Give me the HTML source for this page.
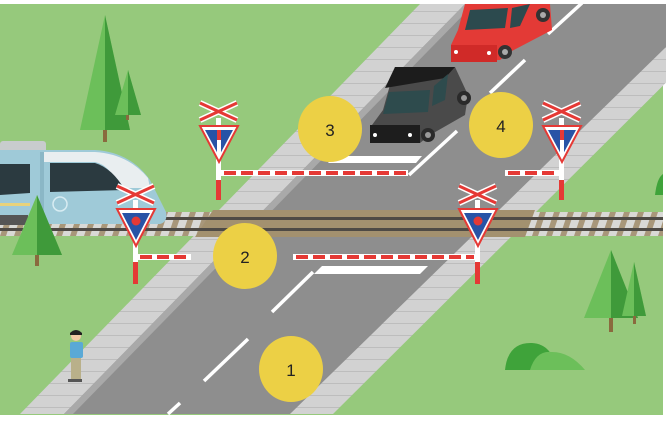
<!DOCTYPE html>
<html><head><meta charset="utf-8"><style>
html,body{margin:0;padding:0;background:#fff;}
svg{display:block;}
text{font-family:"Liberation Sans","DejaVu Sans",sans-serif;}
</style></head><body>
<svg width="666" height="422" viewBox="0 0 666 422" xmlns="http://www.w3.org/2000/svg">
<defs>
<pattern id="sl" x="0" y="212" width="14" height="24" patternUnits="userSpaceOnUse">
<rect width="14" height="24" fill="#d9d9d6"/>
<polygon points="8,0 14,0 6,24 0,24" fill="#a8977a"/>
</pattern>
<pattern id="sw" x="0" y="0" width="10" height="12" patternUnits="userSpaceOnUse">
<rect width="10" height="12" fill="#d2d2d2"/>
<rect y="11" width="10" height="1" fill="#bdbdbd"/>
</pattern>
</defs>
<rect x="0" y="4" width="663" height="411" fill="#96c97c"/>
<!-- sidewalks -->
<polygon points="420,4 745,4 333,414 20,414" fill="url(#sw)"/>
<!-- road -->
<polygon points="465,4 710,4 290,414 64,414" fill="#8e8e8e"/>
<polygon points="465,4 474,4 73,414 64,414" fill="#a9a9a9"/>
<!-- dashes -->
<g stroke="#fff" stroke-width="3.5">
<line x1="168" y1="414" x2="180" y2="403"/>
<line x1="204" y1="381" x2="248" y2="339"/>
<line x1="272" y1="312" x2="313" y2="272"/>
<line x1="409" y1="175" x2="457" y2="131"/>
<line x1="490" y1="93" x2="525" y2="60"/>
<line x1="548" y1="34" x2="582" y2="3"/>
</g>
<polygon points="322,266 428,266 420,274 314,274" fill="#fff"/>
<polygon points="334,156 422,156 416,163 328,163" fill="#fff"/>
<!-- track -->
<rect x="0" y="212" width="663" height="24" fill="url(#sl)"/>
<polygon points="213,210 535,210 525,237 195,237" fill="#a3916f"/>
<rect x="0" y="217" width="663" height="3" fill="#4e4a45"/>
<rect x="0" y="228" width="663" height="3" fill="#4e4a45"/>
<!-- train -->
<g>
<rect x="0" y="141" width="46" height="14" rx="3" fill="#c8cccd"/>
<path d="M0,150 L95,150 Q130,152 150,180 L166,212 Q168,222 160,224 L0,224 Z" fill="#9fcad8"/>
<path d="M40,152 L95,152 Q128,154 148,178 L150,188 L120,188 Q110,165 95,162 L40,162 Z" fill="#e9eef0"/>
<path d="M50,163 L95,163 Q112,168 125,190 L50,192 Z" fill="#2b3a40"/>
<path d="M0,164 L30,164 L30,193 L0,195 Z" fill="#2b3a40"/>
<rect x="40" y="152" width="4" height="72" fill="#8bb7c6"/>
<circle cx="60" cy="204" r="7" fill="none" stroke="#d8ecf2" stroke-width="1.5"/>
<rect x="0" y="203" width="30" height="3" fill="#e8d27a"/>
<rect x="0" y="215" width="28" height="10" fill="#555"/>
</g>
<!-- trees -->
<g>
<rect x="103" y="110" width="4" height="32" fill="#8a6a3e"/>
<polygon points="105,15 80,130 130,130" fill="#6cbf5a"/>
<polygon points="105,15 105,130 130,130" fill="#3f9a3a"/>
<rect x="126" y="100" width="3" height="20" fill="#8a6a3e"/>
<polygon points="128,70 115,115 141,115" fill="#6cbf5a"/>
<polygon points="128,70 128,115 141,115" fill="#3f9a3a"/>
<rect x="35" y="240" width="4" height="26" fill="#8a6a3e"/>
<polygon points="37,195 12,255 62,255" fill="#6cbf5a"/>
<polygon points="37,195 37,255 62,255" fill="#3f9a3a"/>
<rect x="609" y="300" width="4" height="32" fill="#8a6a3e"/>
<polygon points="611,250 584,318 638,318" fill="#6cbf5a"/>
<polygon points="611,250 611,318 638,318" fill="#3f9a3a"/>
<rect x="633" y="300" width="3" height="24" fill="#8a6a3e"/>
<polygon points="634,262 622,316 646,316" fill="#6cbf5a"/>
<polygon points="634,262 634,316 646,316" fill="#3f9a3a"/>
<path d="M505,370 Q508,342 532,343 Q552,344 557,370 Z" fill="#3fa33a"/>
<path d="M530,370 Q536,350 552,352 Q570,352 585,370 Z" fill="#6cbf5a"/>
<path d="M655,195 Q657,178 663,174 L663,195 Z" fill="#3fa33a"/>
</g>
<!-- cars -->
<g>
<polygon points="465,4 550,4 552,30 510,52 500,60 451,62 451,45 458,30" fill="#e33a36"/>
<polygon points="451,45 497,45 497,62 451,62" fill="#d02a28"/>
<polygon points="470,10 508,8 505,28 465,30" fill="#2c4a4e"/>
<polygon points="512,8 530,4 520,26 510,28" fill="#2c4a4e"/>
<circle cx="505" cy="52" r="7" fill="#333"/><circle cx="505" cy="52" r="3" fill="#aaa"/>
<circle cx="543" cy="15" r="7" fill="#333"/><circle cx="543" cy="15" r="3" fill="#aaa"/>
<circle cx="456" cy="52" r="2" fill="#fff"/><circle cx="489" cy="53" r="2" fill="#fff"/>
<polygon points="395,67 455,67 468,95 465,115 430,135 420,143 370,143 372,125 383,110" fill="#4a4a4a"/>
<polygon points="395,67 455,67 445,78 385,88" fill="#1c1c1c"/>
<polygon points="370,125 420,125 420,143 370,143" fill="#1d1d1d"/>
<polygon points="389,92 430,90 428,112 383,114" fill="#2e4b4d"/>
<polygon points="434,86 448,74 445,100 432,106" fill="#2e4b4d"/>
<circle cx="428" cy="135" r="7" fill="#2a2a2a"/><circle cx="428" cy="135" r="3" fill="#999"/>
<circle cx="464" cy="98" r="7" fill="#2a2a2a"/><circle cx="464" cy="98" r="3" fill="#999"/>
<circle cx="375" cy="135" r="2" fill="#fff"/><circle cx="410" cy="135" r="2" fill="#fff"/>
</g>
<!-- person -->
<g>
<circle cx="76" cy="336" r="5" fill="#f1c9a5"/>
<path d="M70,333 Q76,327 82,333 L82,335 L70,335 Z" fill="#222"/>
<rect x="70" y="342" width="13" height="16" rx="2" fill="#5aa9d6"/>
<rect x="71" y="358" width="10" height="22" fill="#b9b08a"/>
<rect x="68" y="379" width="14" height="3" fill="#555"/>
</g>
<!-- signs -->
<g id="sA">
<rect x="216" y="118" width="5" height="82" fill="#fff"/>
<rect x="216" y="140" width="5" height="8" fill="#e53935"/>
<rect x="216" y="180" width="5" height="20" fill="#e53935"/>
<line x1="200" y1="103" x2="237" y2="120" stroke="#fff" stroke-width="6"/>
<line x1="200" y1="120" x2="237" y2="103" stroke="#fff" stroke-width="6"/>
<line x1="200" y1="103" x2="237" y2="120" stroke="#e53935" stroke-width="3"/>
<line x1="200" y1="120" x2="237" y2="103" stroke="#e53935" stroke-width="3"/>
<polygon points="200,126 238,126 219,162" fill="#fff" stroke="#e53935" stroke-width="2"/>
<polygon points="205,130 233,130 219,156" fill="#2853a6"/>
<rect x="217" y="130" width="4" height="26" fill="#fff"/><rect x="217" y="130" width="4" height="10" fill="#e53935"/>
</g>
<g fill="#fff"><rect x="218" y="170" width="190" height="6"/><rect x="135" y="254" width="56" height="6"/><rect x="293" y="254" width="185" height="6"/><rect x="505" y="170" width="56" height="6"/></g>
<g stroke="#e53935" stroke-width="4" stroke-dasharray="12,5"><line x1="224" y1="173" x2="406" y2="173"/><line x1="140" y1="257" x2="190" y2="257"/><line x1="296" y1="257" x2="474" y2="257"/><line x1="508" y1="173" x2="557" y2="173"/></g>
<use href="#sA" x="343" y="0"/>
<g id="sB">
<rect x="133" y="200" width="5" height="84" fill="#fff"/>
<rect x="133" y="262" width="5" height="22" fill="#e53935"/>
<line x1="117" y1="186" x2="154" y2="203" stroke="#fff" stroke-width="6"/>
<line x1="117" y1="203" x2="154" y2="186" stroke="#fff" stroke-width="6"/>
<line x1="117" y1="186" x2="154" y2="203" stroke="#e53935" stroke-width="3"/>
<line x1="117" y1="203" x2="154" y2="186" stroke="#e53935" stroke-width="3"/>
<polygon points="117,209 155,209 136,246" fill="#fff" stroke="#e53935" stroke-width="2"/>
<polygon points="122,213 150,213 136,240" fill="#2853a6"/>
<circle cx="136" cy="221" r="4.5" fill="#e53935"/>
</g>
<use href="#sB" x="342" y="0"/>
<!-- numbers -->
<g fill="#ecd045">
<ellipse cx="291" cy="369" rx="32" ry="33"/>
<ellipse cx="245" cy="256" rx="32" ry="33"/>
<ellipse cx="330" cy="129" rx="32" ry="33"/>
<ellipse cx="501" cy="125" rx="32" ry="33"/>
</g>
<g font-size="17" fill="#222" text-anchor="middle">
<text x="291" y="376">1</text><text x="245" y="263">2</text><text x="330" y="136">3</text><text x="501" y="132">4</text>
</g>
</svg>
</body></html>
